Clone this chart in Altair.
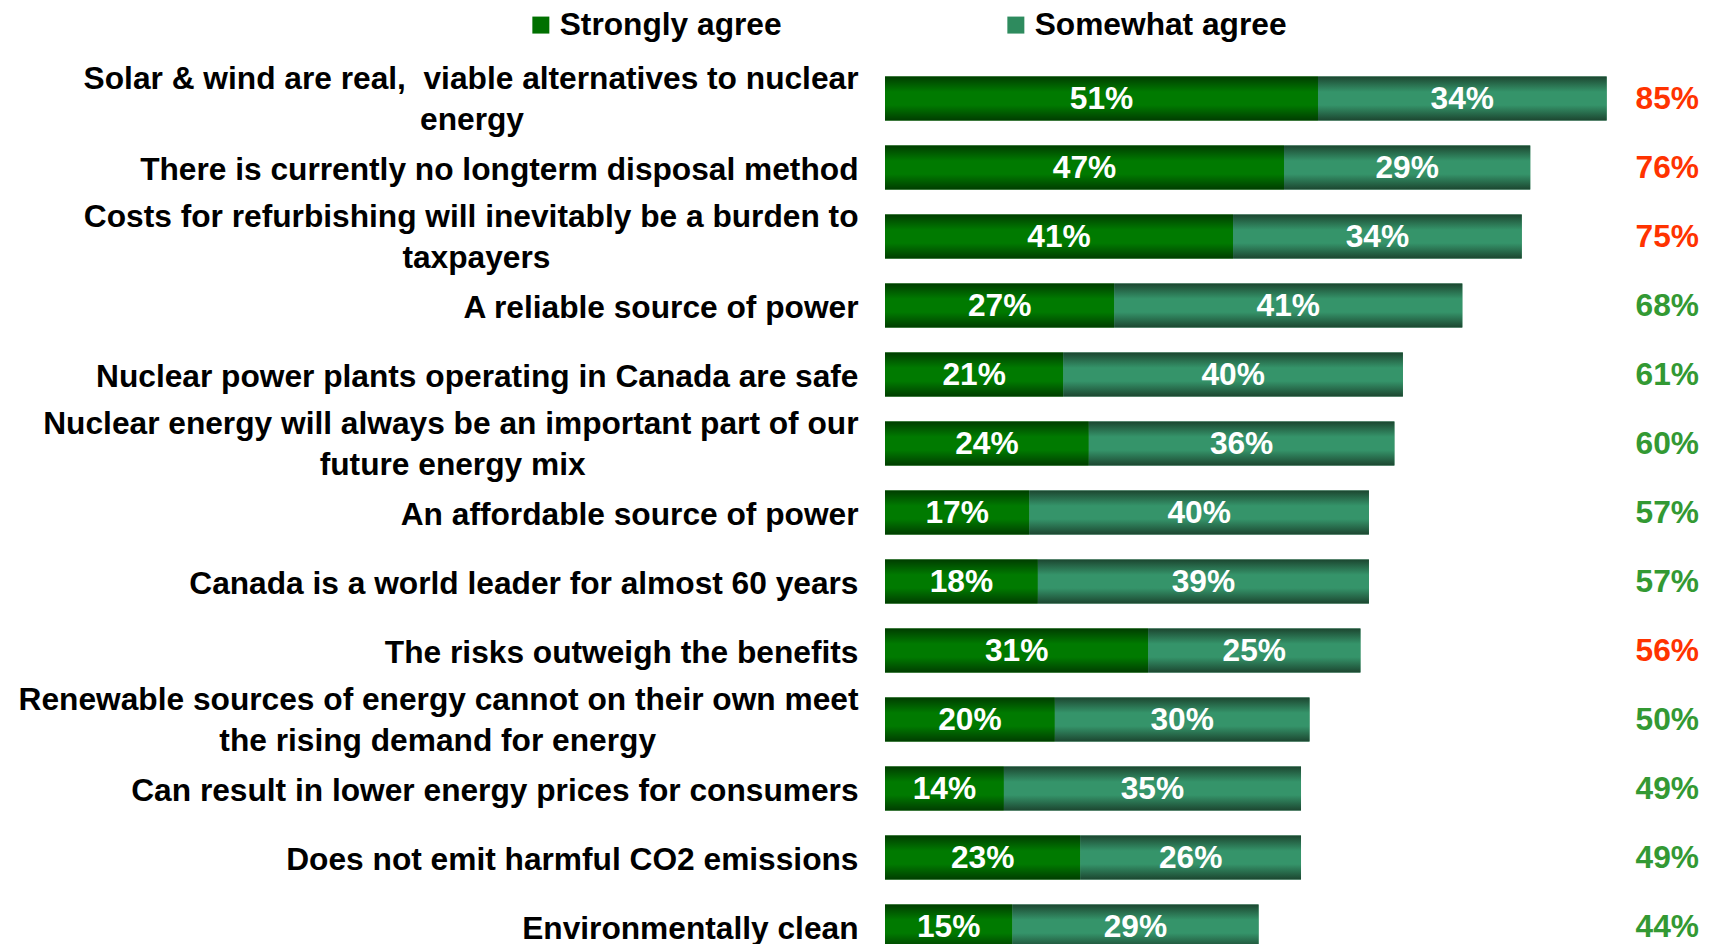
import altair as alt
import pandas as pd

NB = "\u00a0"
ZW = "\u200b"

# Statement lines (second lines padded with no-break spaces so the block looks centred)
statements = [
    "Solar & wind are real," + NB + " viable alternatives to nuclear\nenergy" + NB * 38 + ZW,
    "There is currently no longterm disposal method",
    "Costs for refurbishing will inevitably be a burden to\ntaxpayers" + NB * 35 + ZW,
    "A reliable source of power",
    "Nuclear power plants operating in Canada are safe",
    "Nuclear energy will always be an important part of our\nfuture energy mix" + NB * 31 + ZW,
    "An affordable source of power",
    "Canada is a world leader for almost 60 years",
    "The risks outweigh the benefits",
    "Renewable sources of energy cannot on their own meet\nthe rising demand for energy" + NB * 23 + ZW,
    "Can result in lower energy prices for consumers",
    "Does not emit harmful CO2 emissions",
    "Environmentally clean",
]
strongly = [51, 47, 41, 27, 21, 24, 17, 18, 31, 20, 14, 23, 15]
somewhat = [34, 29, 34, 41, 40, 36, 40, 39, 25, 30, 35, 26, 29]
totals = [85, 76, 75, 68, 61, 60, 57, 57, 56, 50, 49, 49, 44]
stance = ["against", "against", "against", "for", "for", "for", "for", "for",
          "against", "for", "for", "for", "for"]
series = ["Strongly agree", "Somewhat agree"]

rows = []
for i, s in enumerate(statements):
    rows.append(dict(statement=s, series=series[0], start=0, end=strongly[i], value=strongly[i]))
    rows.append(dict(statement=s, series=series[1], start=strongly[i],
                     end=strongly[i] + somewhat[i], value=somewhat[i]))
bars = pd.DataFrame(rows)
tot = pd.DataFrame(dict(statement=statements, total=totals, stance=stance))

FONT = "Liberation Sans"
FS = 31.7

yscale = alt.Scale(range=[0, 897], paddingInner=0.362, paddingOuter=0.181)
xscale = alt.Scale(domain=[0, 100], range=[0, 849])

yenc = alt.Y(
    "statement:N", sort=statements, scale=yscale, title=None,
    axis=alt.Axis(domain=False, ticks=False, grid=False, labelFont=FONT,
                  labelFontSize=FS, labelFontWeight="bold", labelColor="black",
                  labelPadding=27, labelLimit=1200, labelLineHeight=41.5,
                  labelAlign="right", labelBaseline="middle",
                  labelOffset={"condition": {"test": "indexof(datum.value, '\\n') >= 0",
                                             "value": -20},
                               "value": 2},
                  labelExpr="split(datum.label, '\\n')"),
)

grad_strong = alt.LinearGradient(
    gradient="linear", x1=0, x2=0, y1=0, y2=1,
    stops=[alt.GradientStop(color="#003d00", offset=0),
           alt.GradientStop(color="#007a00", offset=0.35),
           alt.GradientStop(color="#007a00", offset=0.65),
           alt.GradientStop(color="#003d00", offset=1)])
grad_some = alt.LinearGradient(
    gradient="linear", x1=0, x2=0, y1=0, y2=1,
    stops=[alt.GradientStop(color="#1c4630", offset=0),
           alt.GradientStop(color="#35946a", offset=0.35),
           alt.GradientStop(color="#35946a", offset=0.65),
           alt.GradientStop(color="#1c4630", offset=1)])

base = alt.Chart(bars).encode(y=yenc)

legend_bars = base.mark_bar().encode(
    x=alt.X("start:Q", scale=xscale, axis=None),
    x2="end:Q",
    color=alt.Color("series:N", sort=series,
                    scale=alt.Scale(domain=series, range=["#007000", "#2e8b5e"]),
                    legend=alt.Legend(title=None, orient="none", direction="horizontal",
                                      legendX=-360, legendY=-55, padding=0,
                                      symbolType="square", symbolSize=289,
                                      symbolStrokeWidth=0, labelFont=FONT,
                                      labelFontSize=FS, labelFontWeight="bold",
                                      labelColor="black", labelOffset=3,
                                      columnPadding=218, labelLimit=400)),
)

strong_bars = base.transform_filter(alt.datum.series == series[0]).mark_bar(
    color=grad_strong).encode(x=alt.X("start:Q", scale=xscale, axis=None), x2="end:Q")
some_bars = base.transform_filter(alt.datum.series == series[1]).mark_bar(
    color=grad_some).encode(x=alt.X("start:Q", scale=xscale, axis=None), x2="end:Q")

seg_labels = base.transform_calculate(
    mid="(datum.start + datum.end) / 2", lab="datum.value + '%'"
).mark_text(color="white", font=FONT, fontSize=FS, fontWeight="bold",
            baseline="middle").encode(
    x=alt.X("mid:Q", scale=xscale, axis=None), text="lab:N")

total_labels = alt.Chart(tot).transform_calculate(
    lab="datum.total + '%'"
).mark_text(align="right", baseline="middle", font=FONT, fontSize=FS,
            fontWeight="bold").encode(
    y=yenc,
    x=alt.value(814),
    text="lab:N",
    color=alt.condition(alt.datum.stance == "against", alt.value("#ff3300"),
                        alt.value("#339933")),
)

chart = alt.layer(legend_bars, strong_bars, some_bars, seg_labels, total_labels).properties(
    width=820, height=880,
    padding={"left": 877, "top": 56, "right": 0, "bottom": 0},
    autosize=alt.AutoSizeParams(type="none"),
    background="white",
).configure_view(strokeWidth=0)

chart.save("out.html", embed_options={"renderer": "svg", "actions": False})
